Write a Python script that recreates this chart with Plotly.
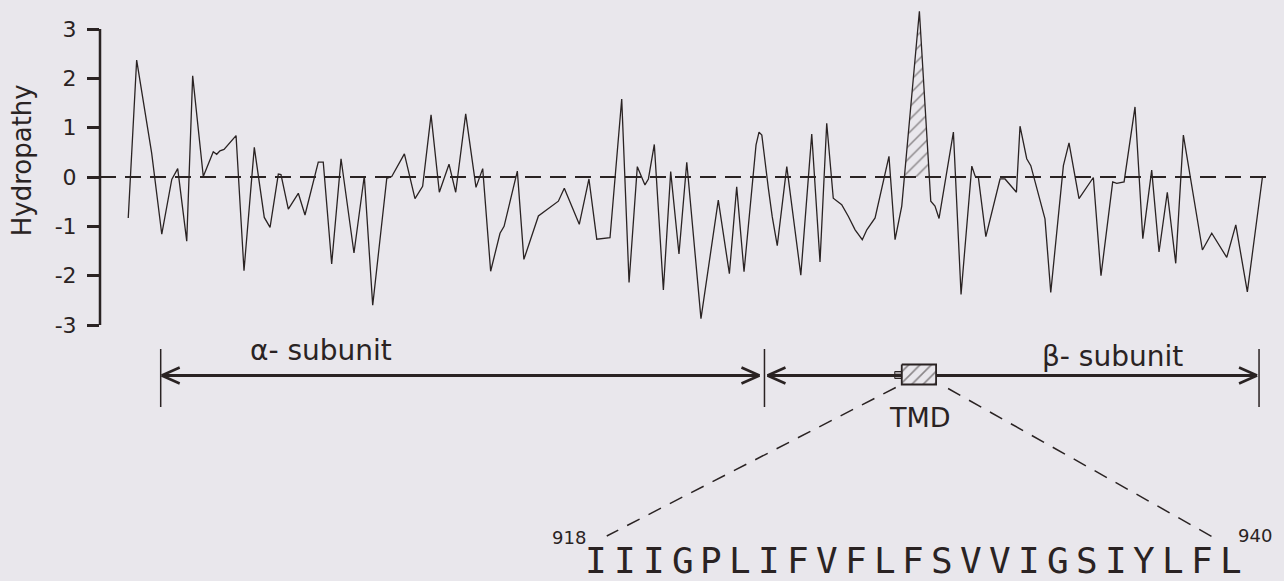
import numpy as np
import plotly.graph_objects as go

# ---------------- data ----------------
residue = [422.2, 427.6, 437.2, 443.7, 450.1, 453.9, 459.7, 463.5, 470.3, 476.7,
           478.9, 481.0, 483.6, 491.3, 496.4, 503.0, 509.4, 513.1, 518.4, 520.1,
           524.8, 531.2, 535.5, 544.0, 547.2, 552.6, 558.6, 566.9, 573.5, 578.9,
           587.9, 591.1, 599.2, 606.0, 610.9, 616.3, 621.6, 627.8, 632.1, 638.5,
           645.1, 649.4, 654.5, 660.5, 663.1, 671.6, 675.8, 685.1, 697.9, 701.7,
           711.3, 717.5, 722.5, 731.0, 738.5, 743.2, 748.5, 753.4, 755.6, 759.4,
           765.2, 769.9, 775.2, 780.2, 789.3, 800.4, 807.5, 812.2, 816.9, 824.6,
           826.5, 828.3, 832.5, 835.0, 838.2, 844.3, 853.3, 860.3, 865.6, 869.9,
           874.1, 879.5, 883.8, 888.1, 892.7, 895.6, 900.9, 909.8, 913.7, 918.0,
           929.3, 936.6, 939.3, 941.9, 951.1, 956.0, 962.9, 965.0, 967.1, 971.9,
           981.0, 984.2, 991.5, 993.8, 998.1, 1000.7, 1009.8, 1013.5, 1021.6, 1025.2,
           1031.6, 1040.8, 1045.7, 1053.2, 1055.8, 1060.5, 1067.5, 1072.5, 1078.2, 1082.9,
           1088.2, 1093.6, 1098.5, 1110.7, 1116.7, 1126.3, 1132.1, 1139.5, 1149.1]
hydropathy = [-0.83, 2.37, 0.49, -1.16, -0.05, 0.17, -1.30, 2.05, 0.01, 0.51,
              0.46, 0.53, 0.56, 0.84, -1.90, 0.60, -0.82, -1.02, 0.06, 0.05,
              -0.65, -0.33, -0.77, 0.30, 0.30, -1.76, 0.37, -1.54, 0.02, -2.60,
              -0.03, 0.01, 0.47, -0.44, -0.19, 1.26, -0.31, 0.26, -0.31, 1.28,
              -0.21, 0.17, -1.91, -1.14, -1.00, 0.12, -1.67, -0.79, -0.49, -0.23,
              -0.96, -0.04, -1.26, -1.23, 1.58, -2.14, 0.21, -0.16, -0.04, 0.66,
              -2.29, 0.11, -1.56, 0.30, -2.87, -0.47, -1.96, -0.20, -1.92, 0.65,
              0.91, 0.85, -0.23, -0.81, -1.39, 0.21, -1.99, 0.87, -1.72, 1.09,
              -0.43, -0.56, -0.80, -1.07, -1.27, -1.07, -0.83, 0.42, -1.27, -0.59,
              3.36, -0.49, -0.59, -0.84, 0.91, -2.38, 0.22, 0.02, -0.01, -1.21,
              -0.04, -0.04, -0.31, 1.03, 0.37, 0.23, -0.85, -2.34, 0.23, 0.69,
              -0.44, -0.01, -2.00, -0.10, -0.13, -0.10, 1.42, -1.25, 0.14, -1.52,
              -0.31, -1.75, 0.85, -1.48, -1.14, -1.63, -0.97, -2.33, -0.02]

ytick_vals = [-3, -2, -1, 0, 1, 2, 3]
ytick_labels = ["-3", "-2", "-1", "0", "1", "2", "3"]

alpha_span = [443, 830]
beta_span = [830, 1147]
tmd_span = [918, 940]
tmd_sequence = ["I", "I", "I", "G", "P", "L", "I", "F", "V", "F", "L", "F",
                "S", "V", "V", "I", "G", "S", "I", "Y", "L", "F", "L"]
tmd_numbers = ["918", "940"]
alpha_label = "\u03b1- subunit"
beta_label = "\u03b2- subunit"
tmd_label = "TMD"
y_title = "Hydropathy"

# ---------------- styling / layout ----------------
W, H = 1284, 581
ML = 100
BOT = 256                      # pixels under the -3 line
X_RANGE = [404.1, 1163.0]
PXU = (W - ML) / (X_RANGE[1] - X_RANGE[0])   # pixels per x unit
INK = "#2a2323"
PAPER = "#e9e7ec"
FONT = "DejaVu Sans"


def dxu(px):
    return px / PXU


def xpaper(px):
    return (px - ML) / (W - ML)


fig = go.Figure()

# main hydropathy line
fig.add_trace(go.Scatter(x=residue, y=hydropathy, mode="lines",
                         line=dict(color=INK, width=1.3),
                         hoverinfo="skip", showlegend=False))

# hatched peak (part above zero around the TMD)
r = np.array(residue)
h = np.array(hydropathy)
k = int(np.argmax(h))
xa = r[k - 1] + (0 - h[k - 1]) / (h[k] - h[k - 1]) * (r[k] - r[k - 1])
xb = r[k] + (h[k] - 0) / (h[k] - h[k + 1]) * (r[k + 1] - r[k])
fig.add_trace(go.Scatter(x=[xa, r[k], xb, xa], y=[0, h[k], 0, 0], mode="lines",
                         fill="toself", line=dict(width=0, color=INK),
                         fillcolor="rgba(0,0,0,0)",
                         fillpattern=dict(shape="/", fgcolor=INK, bgcolor="rgba(0,0,0,0)",
                                          size=9, solidity=0.16),
                         hoverinfo="skip", showlegend=False))

# ---- lower annotation panel (y2 in pixel offsets below the -3 line) ----
ARROW_Y = -50.5
BAR = (-24, -82)
BOX = (-39.5, -59.5)

shapes = []
# zero dashed line
shapes.append(dict(type="line", xref="paper", yref="y", x0=0, x1=xpaper(1273), y0=0, y1=0,
                   line=dict(color=INK, width=2, dash="16px,9px"), layer="below"))
# y axis line
shapes.append(dict(type="line", xref="paper", yref="y", x0=0, x1=0, y0=-3, y1=3,
                   line=dict(color=INK, width=2.5)))

# vertical bars
for xb_ in [alpha_span[0], alpha_span[1], beta_span[1]]:
    shapes.append(dict(type="line", xref="x", yref="y2", x0=xb_, x1=xb_, y0=BAR[0], y1=BAR[1],
                       line=dict(color=INK, width=1.5)))


def arrow(x_a, x_b, y):
    """double headed arrow from x_a to x_b with open V heads"""
    out = [dict(type="line", xref="x", yref="y2", x0=x_a, x1=x_b, y0=y, y1=y,
                line=dict(color=INK, width=3), layer="below")]
    for tip, d in [(x_a, 1), (x_b, -1)]:
        for s in (1, -1):
            out.append(dict(type="line", xref="x", yref="y2", x0=tip, x1=tip + d * dxu(18),
                            y0=y, y1=y + s * 8, line=dict(color=INK, width=2.5)))
    return out


shapes += arrow(alpha_span[0] + dxu(1), alpha_span[1] - dxu(5), ARROW_Y)
shapes += arrow(beta_span[0] + dxu(3), beta_span[1] - dxu(2), ARROW_Y)

# small stub at left of TMD box
shapes.append(dict(type="rect", xref="x", yref="y2", x0=tmd_span[0] - dxu(7), x1=tmd_span[0],
                   y0=ARROW_Y + 4, y1=ARROW_Y - 3, line=dict(color=INK, width=1),
                   fillcolor="rgba(42,35,35,0.35)"))

# dashed connectors from the box to the sequence
shapes.append(dict(type="line", xref="x", yref="y2",
                   x0=tmd_span[0] - dxu(6), y0=BOX[1] - 3,
                   x1=tmd_span[0] - dxu(295), y1=-211,
                   line=dict(color=INK, width=1.5, dash="14px,10px")))
shapes.append(dict(type="line", xref="x", yref="y2",
                   x0=tmd_span[1] + dxu(12), y0=BOX[1] - 4,
                   x1=tmd_span[1] + dxu(282), y1=-215,
                   line=dict(color=INK, width=1.5, dash="14px,10px")))

# TMD box, hatched
fig.add_trace(go.Scatter(x=[tmd_span[0], tmd_span[1], tmd_span[1], tmd_span[0], tmd_span[0]],
                         y=[BOX[0], BOX[0], BOX[1], BOX[1], BOX[0]],
                         xaxis="x", yaxis="y2", mode="lines", fill="toself",
                         line=dict(color=INK, width=1.8),
                         fillcolor=PAPER,
                         fillpattern=dict(shape="/", fgcolor=INK, bgcolor=PAPER,
                                          size=8, solidity=0.2),
                         hoverinfo="skip", showlegend=False))

annotations = []
annotations.append(dict(text=y_title, xref="paper", yref="y", x=xpaper(22), y=0.34,
                        xanchor="center", yanchor="middle",
                        textangle=-90, showarrow=False,
                        font=dict(family=FONT, size=26, color=INK)))
annotations.append(dict(text=alpha_label, xref="x", yref="y2", x=546, y=-25,
                        xanchor="center", yanchor="middle",
                        showarrow=False, font=dict(family=FONT, size=28, color=INK)))
annotations.append(dict(text=beta_label, xref="x", yref="y2", x=1053, y=-31,
                        xanchor="center", yanchor="middle",
                        showarrow=False, font=dict(family=FONT, size=28, color=INK)))
annotations.append(dict(text=tmd_label, xref="x", yref="y2", x=(tmd_span[0] + tmd_span[1]) / 2 + 1,
                        y=-92, xanchor="center", yanchor="middle",
                        showarrow=False, font=dict(family=FONT, size=27, color=INK)))

# sequence letters
n = len(tmd_sequence)
seq_x = np.linspace(xpaper(596), xpaper(1231), n)
for i, ch in enumerate(tmd_sequence):
    annotations.append(dict(text=ch, xref="paper", yref="y2", x=float(seq_x[i]), y=-235,
                            xanchor="center", yanchor="middle", showarrow=False,
                            font=dict(family="DejaVu Sans Mono", size=36, color=INK)))
annotations.append(dict(text=tmd_numbers[0], xref="paper", yref="y2", x=xpaper(588), y=-212,
                        xanchor="right", yanchor="middle", showarrow=False,
                        font=dict(family=FONT, size=18, color=INK)))
annotations.append(dict(text=tmd_numbers[1], xref="paper", yref="y2", x=xpaper(1236), y=-210,
                        xanchor="left", yanchor="middle", showarrow=False,
                        font=dict(family=FONT, size=18, color=INK)))

fig.update_layout(
    width=W, height=H,
    margin=dict(l=ML, r=0, t=0, b=0, pad=0, autoexpand=False),
    paper_bgcolor=PAPER, plot_bgcolor=PAPER,
    showlegend=False,
    xaxis=dict(domain=[0, 1], range=X_RANGE, visible=False, anchor="y"),
    yaxis=dict(domain=[BOT / H, 1], range=[-3, 3 + 29 / 49.33],
               tickvals=ytick_vals, ticktext=ytick_labels,
               ticks="outside", ticklen=12, tickwidth=2.5, tickcolor=INK,
               ticklabelstandoff=6, automargin=False,
               showline=False, showgrid=False, zeroline=False,
               tickfont=dict(family=FONT, size=22, color=INK), anchor="x"),
    yaxis2=dict(domain=[0, BOT / H], range=[-BOT, 0], visible=False, anchor="x"),
    shapes=shapes,
    annotations=annotations,
)

fig.write_html("out.html",
               config={"displayModeBar": False},
               post_script="document.body.style.margin='0';document.body.style.overflow='hidden';")
